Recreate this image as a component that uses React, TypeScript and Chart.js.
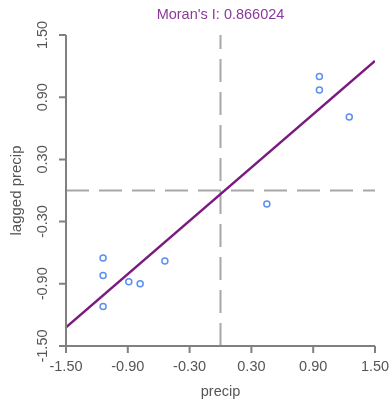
import React, { useEffect, useRef } from "react";
import { Chart, registerables } from "chart.js";

Chart.register(...registerables);

const titleText = "Moran's I: 0.866024";
const xTitle = "precip";
const yTitle = "lagged precip";

const xValues = [0.96, 0.96, 1.25, 0.45, -1.14, -1.14, -1.14, -0.89, -0.78, -0.54];
const yValues = [1.1, 0.97, 0.71, -0.13, -0.65, -0.82, -1.12, -0.88, -0.9, -0.68];

const fitX = [-1.5, 1.5];
const fitY = [-1.32, 1.25];

const tickValues = [-1.5, -0.9, -0.3, 0.3, 0.9, 1.5];
const tickLabels = ["-1.50", "-0.90", "-0.30", "0.30", "0.90", "1.50"];

const meanX = 0;
const meanY = 0;

const FONT = '"Liberation Sans", Arial, sans-serif';

const axesPlugin = {
  id: "rAxes",
  afterDraw(chart: any) {
    const ctx = chart.ctx;
    const xs = chart.scales.x;
    const ys = chart.scales.y;
    ctx.save();
    ctx.strokeStyle = "#808080";
    ctx.lineWidth = 2;
    const y0 = ys.getPixelForValue(tickValues[0]);
    const x0 = xs.getPixelForValue(tickValues[0]);
    ctx.beginPath();
    ctx.moveTo(xs.getPixelForValue(tickValues[0]), y0);
    ctx.lineTo(xs.getPixelForValue(tickValues[tickValues.length - 1]), y0);
    tickValues.forEach((v) => {
      const p = xs.getPixelForValue(v);
      ctx.moveTo(p, y0);
      ctx.lineTo(p, y0 + 7);
    });
    ctx.moveTo(x0, ys.getPixelForValue(tickValues[0]));
    ctx.lineTo(x0, ys.getPixelForValue(tickValues[tickValues.length - 1]));
    tickValues.forEach((v) => {
      const p = ys.getPixelForValue(v);
      ctx.moveTo(x0, p);
      ctx.lineTo(x0 - 7, p);
    });
    ctx.stroke();

    ctx.fillStyle = "#555555";
    ctx.font = `14.5px ${FONT}`;
    ctx.textAlign = "center";
    ctx.textBaseline = "middle";
    tickValues.forEach((v, i) => {
      ctx.fillText(tickLabels[i], xs.getPixelForValue(v), y0 + 21);
    });
    tickValues.forEach((v, i) => {
      ctx.save();
      ctx.translate(x0 - 23, ys.getPixelForValue(v));
      ctx.rotate(-Math.PI / 2);
      ctx.fillText(tickLabels[i], 0, 0);
      ctx.restore();
    });
    ctx.fillText(xTitle, (xs.left + xs.right) / 2, y0 + 46);
    ctx.save();
    ctx.translate(17, (ys.top + ys.bottom) / 2);
    ctx.rotate(-Math.PI / 2);
    ctx.font = `15px ${FONT}`;
    ctx.fillText(yTitle, 0, 0);
    ctx.restore();
    ctx.fillStyle = "#8a3a9a";
    ctx.font = `14.5px ${FONT}`;
    ctx.fillText(titleText, (xs.left + xs.right) / 2, 15);
    ctx.restore();
  },
};

export default function App() {
  const ref = useRef<HTMLCanvasElement>(null);
  useEffect(() => {
    if (!ref.current) return;
    const chart = new Chart(ref.current, {
      type: "scatter",
      data: {
        datasets: [
          {
            type: "line",
            data: fitX.map((x, i) => ({ x, y: fitY[i] })),
            borderColor: "#7a1a7e",
            borderWidth: 2.5,
            pointRadius: 0,
            fill: false,
            order: 0,
          } as any,
          {
            type: "line",
            data: [
              { x: tickValues[0], y: meanY },
              { x: tickValues[tickValues.length - 1], y: meanY },
            ],
            borderColor: "#a8a8a8",
            borderWidth: 2,
            borderDash: [23, 10],
            pointRadius: 0,
            fill: false,
            order: 1,
          } as any,
          {
            type: "line",
            data: [
              { x: meanX, y: tickValues[0] },
              { x: meanX, y: tickValues[tickValues.length - 1] },
            ],
            borderColor: "#a8a8a8",
            borderWidth: 2,
            borderDash: [23, 10],
            pointRadius: 0,
            fill: false,
            order: 1,
          } as any,
          {
            type: "scatter",
            data: xValues.map((x, i) => ({ x, y: yValues[i] })),
            borderColor: "#5b8ff0",
            backgroundColor: "rgba(0,0,0,0)",
            borderWidth: 1.5,
            pointRadius: 3,
            order: 2,
          },
        ],
      },
      options: {
        responsive: false,
        animation: false,
        layout: { padding: { left: 66, right: 14, top: 35, bottom: 58 } },
        plugins: { legend: { display: false }, tooltip: { enabled: false } },
        scales: {
          x: { type: "linear", min: -1.5, max: 1.5, display: false },
          y: { type: "linear", min: -1.5, max: 1.5, display: false },
        },
      },
      plugins: [axesPlugin],
    });
    return () => chart.destroy();
  }, []);
  return (
    <div style={{ position: "fixed", left: 0, top: 0, background: "#fff" }}>
      <canvas ref={ref} width={389} height={404} />
    </div>
  );
}
